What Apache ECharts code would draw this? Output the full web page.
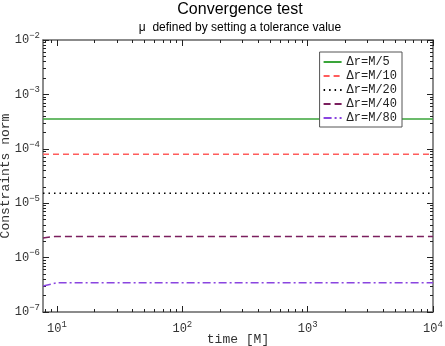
<!DOCTYPE html>
<html>
<head>
<meta charset="utf-8">
<script src="https://cdn.jsdelivr.net/npm/echarts@6/dist/echarts.min.js"></script>
<style>
  html, body { margin: 0; background: #fff; }
  #chart { width: 445px; height: 346px; }
</style>
</head>
<body>
<div id="chart"></div>
<script>
// axis ranges and ticks
const timeMin = 7.73
const timeMax = 10000
const normMin = 1e-7
const normMax = 1e-2
const timeMajor = [10, 100, 1000, 10000]
const timeMinor = [8, 9, 20, 30, 40, 50, 60, 70, 80, 90, 200, 300, 400, 500, 600, 700, 800, 900,
  2000, 3000, 4000, 5000, 6000, 7000, 8000, 9000]
const normMajor = [1e-7, 1e-6, 1e-5, 1e-4, 1e-3, 1e-2]
const normMinor = []
;[1e-7, 1e-6, 1e-5, 1e-4, 1e-3].forEach(d => {
  for (let k = 2; k <= 9; k++) normMinor.push(d * k)
})

// series
const seriesNames = ['Δr=M/5', 'Δr=M/10', 'Δr=M/20', 'Δr=M/40', 'Δr=M/80']
const timeM5 = [7.73, 10000]
const normM5 = [3.53e-4, 3.53e-4]
const timeM10 = [7.73, 10000]
const normM10 = [7.9e-5, 7.9e-5]
const timeM20 = [7.73, 10000]
const normM20 = [1.52e-5, 1.52e-5]
const timeM40 = [7.73, 9.5, 10000]
const normM40 = [2.3e-6, 2.43e-6, 2.43e-6]
const timeM80 = [7.73, 10, 10000]
const normM80 = [3.0e-7, 3.45e-7, 3.46e-7]

const seriesTimes = [timeM5, timeM10, timeM20, timeM40, timeM80]
const seriesNorms = [normM5, normM10, normM20, normM40, normM80]
const seriesColors = ['#3aa53a', '#ff5c5c', '#000000', '#7b1f5e', '#8a45e0']
const seriesDash = ['solid', [6, 4], [1.5, 4], [7, 4], [8, 3, 2, 3]]

const mono = 'Liberation Mono'
const sans = 'Liberation Sans'
const axisColor = '#666'

function powLabel(v) {
  const e = Math.round(Math.log10(v))
  return '{b|10}{s|' + (e < 0 ? '\u2212' + (-e) : e) + '}'
}
const powRich = {
  b: { fontFamily: mono, fontSize: 12, color: '#333' },
  s: { fontFamily: mono, fontSize: 9, color: '#333', padding: [0, 0, 9, 0] }
}

function logAxis(base, opts) {
  return Object.assign({
    type: 'log',
    logBase: 10,
    splitLine: { show: false },
    axisLine: { show: false },
    axisTick: { show: false },
    axisLabel: { show: false }
  }, base, opts)
}

const xBase = { min: timeMin, max: timeMax, gridIndex: 0 }
const yBase = { min: normMin, max: normMax, gridIndex: 0 }

const chart = echarts.init(document.getElementById('chart'))
chart.setOption({
  animation: false,
  title: {
    text: 'Convergence test',
    subtext: 'μ  defined by setting a tolerance value',
    left: 240,
    top: 0,
    textAlign: 'center',
    itemGap: 4,
    padding: [2, 0, 0, 0],
    textStyle: { fontFamily: sans, fontSize: 16, fontWeight: 'normal', color: '#000' },
    subtextStyle: { fontFamily: sans, fontSize: 12, color: '#000' }
  },
  grid: { left: 43, right: 12, top: 40, bottom: 34, containLabel: false, outerBoundsMode: 'none' },
  legend: {
    data: seriesNames,
    orient: 'vertical',
    right: 43,
    top: 52,
    backgroundColor: '#fff',
    borderColor: '#555',
    borderWidth: 1,
    borderRadius: 0,
    padding: [3, 5, 2, 3],
    itemWidth: 18,
    itemHeight: 10,
    itemGap: 0,
    itemStyle: { opacity: 0 },
    textStyle: { fontFamily: mono, fontSize: 12, color: '#222', lineHeight: 14 }
  },
  xAxis: [
    logAxis(xBase, {
      position: 'bottom',
      name: 'time [M]',
      nameLocation: 'middle',
      nameGap: 21,
      nameMoveOverlap: false,
      nameTextStyle: { fontFamily: mono, fontSize: 13, color: '#333' },
      axisLine: { show: true, lineStyle: { color: axisColor, width: 1.5 } },
      axisTick: { show: true, inside: true, length: 6, customValues: timeMajor, lineStyle: { color: '#222' } },
      axisLabel: { show: true, customValues: timeMajor, margin: 8, formatter: powLabel, rich: powRich }
    }),
    logAxis(xBase, {
      position: 'bottom',
      axisTick: { show: true, inside: true, length: 3, customValues: timeMinor, lineStyle: { color: '#222' } }
    }),
    logAxis(xBase, {
      position: 'top',
      axisLine: { show: true, lineStyle: { color: axisColor, width: 1.5 } },
      axisTick: { show: true, inside: true, length: 6, customValues: timeMajor, lineStyle: { color: '#222' } }
    }),
    logAxis(xBase, {
      position: 'top',
      axisTick: { show: true, inside: true, length: 3, customValues: timeMinor, lineStyle: { color: '#222' } }
    })
  ],
  yAxis: [
    logAxis(yBase, {
      position: 'left',
      name: 'Constraints norm',
      nameLocation: 'middle',
      nameGap: 31,
      nameMoveOverlap: false,
      nameTextStyle: { fontFamily: mono, fontSize: 13, color: '#333' },
      axisLine: { show: true, lineStyle: { color: axisColor, width: 1.5 } },
      axisTick: { show: true, inside: true, length: 6, customValues: normMajor, lineStyle: { color: '#222' } },
      axisLabel: { show: true, customValues: normMajor, margin: 3, formatter: powLabel, rich: powRich }
    }),
    logAxis(yBase, {
      position: 'left',
      axisTick: { show: true, inside: true, length: 3, customValues: normMinor, lineStyle: { color: '#222' } }
    }),
    logAxis(yBase, {
      position: 'right',
      axisLine: { show: true, lineStyle: { color: axisColor, width: 1.5 } },
      axisTick: { show: true, inside: true, length: 6, customValues: normMajor, lineStyle: { color: '#222' } }
    }),
    logAxis(yBase, {
      position: 'right',
      axisTick: { show: true, inside: true, length: 3, customValues: normMinor, lineStyle: { color: '#222' } }
    })
  ],
  series: seriesNames.map((name, i) => ({
    name: name,
    type: 'line',
    xAxisIndex: 0,
    yAxisIndex: 0,
    showSymbol: false,
    symbol: 'none',
    clip: true,
    data: seriesTimes[i].map((t, j) => [t, seriesNorms[i][j]]),
    itemStyle: { color: seriesColors[i] },
    lineStyle: { color: seriesColors[i], width: 1.5, type: seriesDash[i] }
  }))
})
</script>
</body>
</html>
